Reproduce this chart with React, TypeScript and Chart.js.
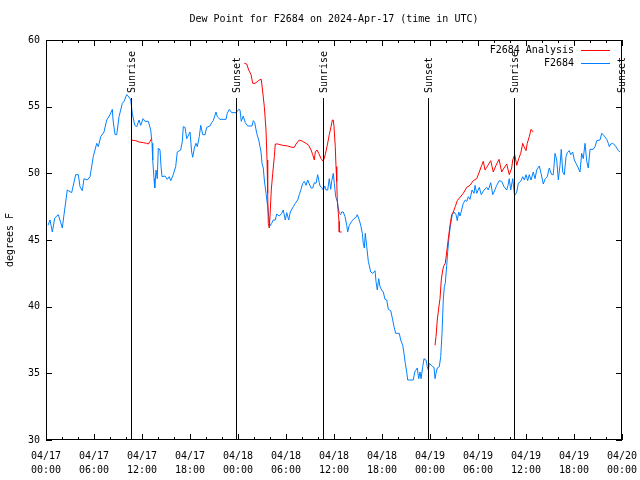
import React, { useEffect, useRef } from "react";
import { Chart, registerables } from "chart.js";

Chart.register(...registerables);

const FONT = "'DejaVu Sans Mono', 'Liberation Mono', monospace";

// Time in hours since 04/17 00:00 UTC
const dateLabels = ["04/17", "04/17", "04/17", "04/17", "04/18", "04/18", "04/18", "04/18", "04/19", "04/19", "04/19", "04/19", "04/20"];
const timeLabels = ["00:00", "06:00", "12:00", "18:00", "00:00", "06:00", "12:00", "18:00", "00:00", "06:00", "12:00", "18:00", "00:00"];

const sunHours = [10.66, 23.75, 34.67, 47.8, 58.54, 71.92];
const sunLabels = ["Sunrise", "Sunset", "Sunrise", "Sunset", "Sunrise", "Sunset"];

const blueHours = [
  0.25, 0.5, 0.79, 1.09, 1.54, 2.04, 2.25, 2.66, 3.21, 3.71, 4.04, 4.25, 4.54, 4.75, 5.16, 5.5, 5.91, 6.34, 6.54, 6.84,
  7.25, 7.59, 8.0, 8.29, 8.38, 8.63, 8.84, 9.13, 9.54, 9.75, 10.09, 10.29, 10.59, 10.79, 11.09, 11.34, 11.63, 11.84, 12.13, 12.38,
  12.79, 13.09, 13.25, 13.34, 13.5, 13.59, 13.75, 13.91, 14.04, 14.25, 14.38, 14.5, 14.88, 15.16, 15.41, 15.59, 15.91, 16.21, 16.41, 16.84,
  17.04, 17.16, 17.38, 17.59, 18.0, 18.21, 18.34, 18.54, 18.75, 18.91, 19.16, 19.34, 19.59, 19.88, 20.09, 20.5, 20.71, 20.91, 21.25, 21.41,
  21.75, 22.5, 22.66, 22.91, 23.21, 23.75, 24.09, 24.25, 24.41, 24.66, 24.91, 25.21, 25.75, 25.91, 26.09, 26.34, 26.59, 26.75, 26.88, 27.0,
  27.16, 27.29, 27.5, 27.71, 27.84, 28.0, 28.21, 28.41, 28.66, 28.84, 29.16, 29.46, 29.66, 29.91, 30.09, 30.34, 30.54, 30.91, 31.16, 31.46,
  31.66, 31.88, 32.09, 32.29, 32.5, 32.71, 32.91, 33.13, 33.34, 33.54, 33.75, 33.96, 34.16, 34.25, 34.46, 34.66, 34.84, 35.0, 35.21, 35.41,
  35.59, 35.71, 35.91, 36.04, 36.21, 36.41, 36.54, 36.66, 36.84, 36.96, 37.16, 37.38, 37.59, 37.71, 37.91, 38.21, 38.5, 38.75, 38.91, 39.16,
  39.34, 39.54, 39.66, 39.79, 39.91, 40.09, 40.29, 40.59, 40.84, 41.13, 41.25, 41.41, 41.59, 41.75, 41.96, 42.16, 42.38, 42.59, 42.79, 43.09,
  43.34, 43.5, 43.71, 44.16, 44.34, 44.59, 44.75, 44.91, 45.09, 45.21, 45.91, 46.09, 46.41, 46.59, 46.75, 46.88, 47.09, 47.25, 47.5, 47.66,
  47.79, 47.91, 48.0, 48.34, 48.5, 48.63, 48.75, 48.91, 49.16, 49.34, 49.5, 49.66, 49.79, 49.91, 50.09, 50.21, 50.38, 50.59, 50.79, 51.0,
  51.25, 51.41, 51.59, 51.75, 51.96, 52.16, 52.41, 52.59, 52.79, 53.0, 53.25, 53.5, 53.63, 53.84, 54.16, 54.41, 54.75, 55.09, 55.29, 55.59,
  55.84, 56.0, 56.34, 56.66, 56.96, 57.25, 57.59, 57.75, 57.91, 58.09, 58.34, 58.54, 58.66, 58.84, 59.04, 59.34, 59.59, 59.79, 60.0, 60.21,
  60.41, 60.63, 60.91, 61.13, 61.34, 61.66, 61.88, 62.16, 62.41, 62.66, 62.91, 63.21, 63.41, 63.63, 63.84, 64.04, 64.25, 64.41, 64.59, 64.79,
  65.0, 65.16, 65.41, 65.59, 65.84, 66.04, 66.25, 66.54, 66.75, 66.96, 67.16, 67.38, 67.59, 67.79, 68.0, 68.41, 68.63, 68.84, 69.25, 69.46,
  69.66, 70.09, 70.29, 70.41, 70.59, 70.84, 71.13, 71.34, 71.54, 71.75,
];
const blueDew = [
  46.1, 46.5, 45.6, 46.65, 46.9, 45.9, 46.9, 48.75, 48.55, 49.9, 49.9, 49.0, 48.7, 49.6, 49.5, 49.75, 51.25, 52.25, 52.0, 52.75,
  53.1, 54.0, 54.4, 54.8, 54.0, 52.9, 52.9, 54.25, 55.25, 55.4, 55.9, 55.8, 55.5, 54.5, 53.6, 53.5, 54.0, 53.6, 54.1, 53.9,
  53.9, 53.25, 52.25, 51.0, 49.6, 48.9, 50.25, 49.6, 51.9, 51.75, 50.5, 49.75, 49.8, 49.55, 49.75, 49.45, 49.9, 50.5, 51.6, 51.75,
  52.4, 53.5, 53.45, 52.6, 53.1, 51.6, 51.2, 51.9, 52.25, 52.0, 52.75, 53.6, 52.9, 52.9, 53.45, 53.55, 53.8, 53.95, 54.6, 54.25,
  54.05, 54.05, 54.5, 54.8, 54.55, 54.55, 54.8, 54.75, 53.9, 54.3, 53.8, 53.55, 53.55, 53.95, 53.8, 53.0, 52.5, 52.0, 51.6, 50.75,
  50.4, 49.5, 48.5, 47.5, 46.75, 46.05, 46.25, 46.5, 46.5, 46.95, 46.8, 47.0, 47.25, 46.5, 47.05, 46.5, 47.1, 47.5, 47.75, 48.0,
  48.4, 48.8, 49.25, 49.4, 49.1, 49.5, 49.2, 48.9, 48.9, 49.3, 49.25, 49.9, 49.3, 49.05, 48.95, 48.75, 49.05, 48.75, 48.75, 49.6,
  48.8, 49.4, 50.0, 49.25, 48.25, 47.9, 47.4, 47.0, 46.9, 47.1, 47.1, 46.75, 46.1, 45.6, 46.1, 46.4, 46.6, 46.7, 46.9, 46.5,
  46.1, 45.5, 44.75, 44.4, 45.5, 44.5, 43.4, 42.6, 42.5, 42.7, 41.9, 41.25, 42.1, 41.5, 41.25, 41.1, 40.55, 40.5, 39.8, 39.7,
  39.0, 38.5, 38.0, 38.0, 37.5, 37.1, 36.5, 35.75, 35.1, 34.5, 34.5, 35.1, 35.4, 34.6, 35.1, 34.6, 35.5, 36.1, 36.0, 35.5,
  35.25, 35.75, 35.7, 35.5, 35.45, 34.6, 35.0, 35.4, 35.5, 36.25, 38.0, 40.5, 41.5, 41.75, 43.1, 44.1, 45.25, 46.25, 46.9, 47.1,
  46.9, 46.45, 47.1, 46.8, 47.25, 47.75, 48.0, 47.9, 48.25, 48.05, 48.75, 48.5, 49.1, 48.5, 48.95, 48.4, 48.75, 48.95, 48.75, 49.3,
  48.4, 48.6, 49.1, 49.45, 49.4, 49.0, 48.75, 49.1, 49.6, 48.75, 49.6, 48.5, 48.4, 48.6, 49.25, 49.4, 49.75, 49.5, 49.9, 49.45,
  49.9, 49.5, 50.1, 49.6, 50.25, 50.55, 50.0, 49.2, 49.6, 49.75, 50.4, 49.9, 49.9, 51.5, 51.0, 49.5, 50.6, 51.8, 50.1, 49.9,
  51.25, 51.55, 51.7, 51.4, 51.6, 51.0, 50.75, 50.4, 50.1, 51.5, 51.1, 52.25, 50.9, 50.4, 51.8, 51.8, 52.0, 52.45, 52.5, 53.0,
  52.9, 52.55, 52.25, 52.0, 52.2, 52.25, 52.1, 51.9, 51.7, 51.6,
];

const redHoursA = [10.66, 11.21, 11.63, 12.16, 12.59, 12.79, 13.0, 13.2];
const redDewA = [52.5, 52.45, 52.35, 52.3, 52.25, 52.2, 52.4, 52.6];

const redHoursB = [
  24.79, 25.09, 25.34, 25.63, 25.84, 26.13, 26.46, 26.66, 26.91, 27.09, 27.29, 27.5, 27.63, 27.71, 27.79, 27.91, 28.04, 28.16, 28.34, 28.54,
  28.66, 28.96, 29.59, 30.21, 30.75, 31.04, 31.25, 31.66, 32.09, 32.5, 32.84, 33.13, 33.34, 33.54, 33.66, 33.88, 34.09, 34.38, 34.66, 34.91,
  35.16, 35.41, 35.63, 35.79, 35.91, 36.0, 36.16, 36.25, 36.34, 36.41, 36.54, 36.63, 36.66, 36.96,
];
const redDewB = [
  58.25, 58.2, 57.75, 57.4, 56.75, 56.75, 56.9, 57.0, 57.05, 56.1, 55.0, 53.25, 51.0, 48.5, 46.25, 45.9, 47.25, 48.75, 50.0, 51.25,
  52.2, 52.2, 52.1, 52.05, 51.95, 51.95, 52.2, 52.5, 52.4, 52.25, 52.1, 51.75, 51.4, 51.0, 51.6, 51.75, 51.5, 51.1, 50.9, 51.4,
  52.1, 52.9, 53.5, 54.0, 54.0, 53.5, 52.0, 50.5, 49.4, 48.0, 47.0, 46.4, 45.6, 45.6,
];

const redHoursC = [
  48.63, 48.75, 48.91, 49.09, 49.25, 49.41, 49.59, 49.75, 49.91, 50.09, 50.29, 50.5, 50.71, 50.91, 51.16, 51.41, 51.75, 52.16, 52.59, 53.0,
  53.41, 53.84, 54.16, 54.46, 54.66, 54.88, 55.09, 55.59, 55.91, 56.25, 56.63, 56.96, 57.25, 57.59, 57.91, 58.21, 58.34, 58.59, 58.84, 59.09,
  59.34, 59.59, 59.75, 60.0, 60.16, 60.41, 60.63, 60.91,
];
const redDewC = [
  37.1, 37.75, 39.0, 39.9, 40.6, 42.0, 42.75, 43.1, 43.25, 44.1, 45.1, 46.1, 46.9, 47.1, 47.5, 47.95, 48.2, 48.5, 48.95, 49.1,
  49.45, 49.6, 50.1, 50.6, 50.9, 50.25, 50.45, 50.95, 50.1, 50.6, 51.05, 50.1, 50.4, 50.7, 49.9, 50.4, 51.0, 51.4, 50.6, 51.1,
  51.5, 52.25, 52.0, 51.7, 52.25, 52.75, 53.3, 53.1,
];

const RED = "#ff0000";
const BLUE = "#0080ff";

function toPts(hs: number[], vs: number[]) {
  return hs.map((h, i) => ({ x: h, y: vs[i] as number | null }));
}

const overlayPlugin = {
  id: "gnuplotOverlay",
  afterDatasetsDraw(chart: any) {
    const { ctx, chartArea, scales } = chart;
    const xs = scales.x;
    const ys = scales.y;
    const L = chartArea.left, R = chartArea.right, T = chartArea.top, B = chartArea.bottom;
    ctx.save();
    ctx.strokeStyle = "#000";
    ctx.lineWidth = 1;
    // frame
    ctx.strokeRect(Math.round(L) + 0.5, Math.round(T) + 0.5, Math.round(R - L) - 1, Math.round(B - T) - 1);
    // x ticks (bottom and top), every 2 hours, major every 6
    ctx.beginPath();
    for (let h = 0; h <= 72; h += 2) {
      const px = Math.round(xs.getPixelForValue(h)) + 0.5;
      const len = h % 6 === 0 ? 6 : 3;
      ctx.moveTo(px, B);
      ctx.lineTo(px, B - len);
      ctx.moveTo(px, T);
      ctx.lineTo(px, T + len);
    }
    for (let v = 30; v <= 60; v += 5) {
      const py = Math.round(ys.getPixelForValue(v)) + 0.5;
      ctx.moveTo(L, py);
      ctx.lineTo(L + 6, py);
      ctx.moveTo(R, py);
      ctx.lineTo(R - 6, py);
    }
    ctx.stroke();
    // sun lines
    ctx.font = "10px " + FONT;
    ctx.fillStyle = "#000";
    sunHours.forEach((h, i) => {
      const px = Math.round(xs.getPixelForValue(h)) + 0.5;
      ctx.beginPath();
      ctx.moveTo(px, 98);
      ctx.lineTo(px, B);
      ctx.stroke();
      ctx.save();
      ctx.translate(px + 1, 93);
      ctx.rotate(-Math.PI / 2);
      ctx.textAlign = "left";
      ctx.textBaseline = "middle";
      ctx.fillText(sunLabels[i], 0, 0);
      ctx.restore();
    });
    // legend
    const items = [
      { label: "F2684 Analysis", color: RED, y: 50 },
      { label: "F2684", color: BLUE, y: 63 },
    ];
    items.forEach((it) => {
      ctx.fillStyle = "#000";
      ctx.textAlign = "right";
      ctx.textBaseline = "middle";
      ctx.fillText(it.label, 574, it.y);
      ctx.strokeStyle = it.color;
      ctx.beginPath();
      ctx.moveTo(581, it.y + 0.5);
      ctx.lineTo(610, it.y + 0.5);
      ctx.stroke();
    });
    // title
    ctx.fillStyle = "#000";
    ctx.textAlign = "center";
    ctx.textBaseline = "middle";
    ctx.fillText("Dew Point for F2684 on 2024-Apr-17 (time in UTC)", (L + R) / 2, 19);
    ctx.restore();
  },
};

export default function App() {
  const ref = useRef<HTMLCanvasElement>(null);
  useEffect(() => {
    if (!ref.current) return;
    const redData = [
      ...toPts(redHoursA, redDewA),
      { x: 18, y: null },
      ...toPts(redHoursB, redDewB),
      { x: 42, y: null },
      ...toPts(redHoursC, redDewC),
    ];
    const chart = new Chart(ref.current, {
      type: "line",
      data: {
        datasets: [
          {
            label: "F2684 Analysis",
            data: redData as any,
            borderColor: RED,
            backgroundColor: RED,
            borderWidth: 1,
            pointRadius: 0,
            spanGaps: false,
            tension: 0,
          },
          {
            label: "F2684",
            data: toPts(blueHours, blueDew) as any,
            borderColor: BLUE,
            backgroundColor: BLUE,
            borderWidth: 1,
            pointRadius: 0,
            tension: 0,
          },
        ],
      },
      options: {
        animation: false,
        responsive: false,
        devicePixelRatio: 1,
        layout: { padding: { left: 0, right: 18, top: 40, bottom: 0 } },
        plugins: { legend: { display: false }, title: { display: false }, tooltip: { enabled: false } },
        scales: {
          x: {
            type: "linear",
            min: 0,
            max: 72,
            grid: { display: false, drawTicks: false },
            border: { display: false },
            ticks: {
              stepSize: 6,
              autoSkip: false,
              maxRotation: 0,
              padding: 10,
              color: "#000",
              font: { family: FONT, size: 10, lineHeight: 1.35 },
              callback: (v: any) => {
                const i = Math.round(Number(v) / 6);
                return [dateLabels[i], timeLabels[i]];
              },
            },
            afterFit: (s: any) => {
              s.height = 40;
              s.paddingLeft = 0;
              s.paddingRight = 0;
            },
          },
          y: {
            min: 30,
            max: 60,
            grid: { display: false, drawTicks: false },
            border: { display: false },
            ticks: { stepSize: 5, padding: 6, color: "#000", font: { family: FONT, size: 10 } },
            title: { display: true, text: "degrees F", color: "#000", font: { family: FONT, size: 10 }, padding: { top: 4, bottom: 0 } },
            afterFit: (s: any) => {
              s.width = 46;
              s.paddingTop = 0;
              s.paddingBottom = 0;
            },
          },
        },
      },
      plugins: [overlayPlugin],
    });
    return () => chart.destroy();
  }, []);
  return (
    <div style={{ position: "fixed", left: 0, top: 0, width: 640, height: 480, background: "#fff" }}>
      <canvas ref={ref} width={640} height={480} />
    </div>
  );
}
